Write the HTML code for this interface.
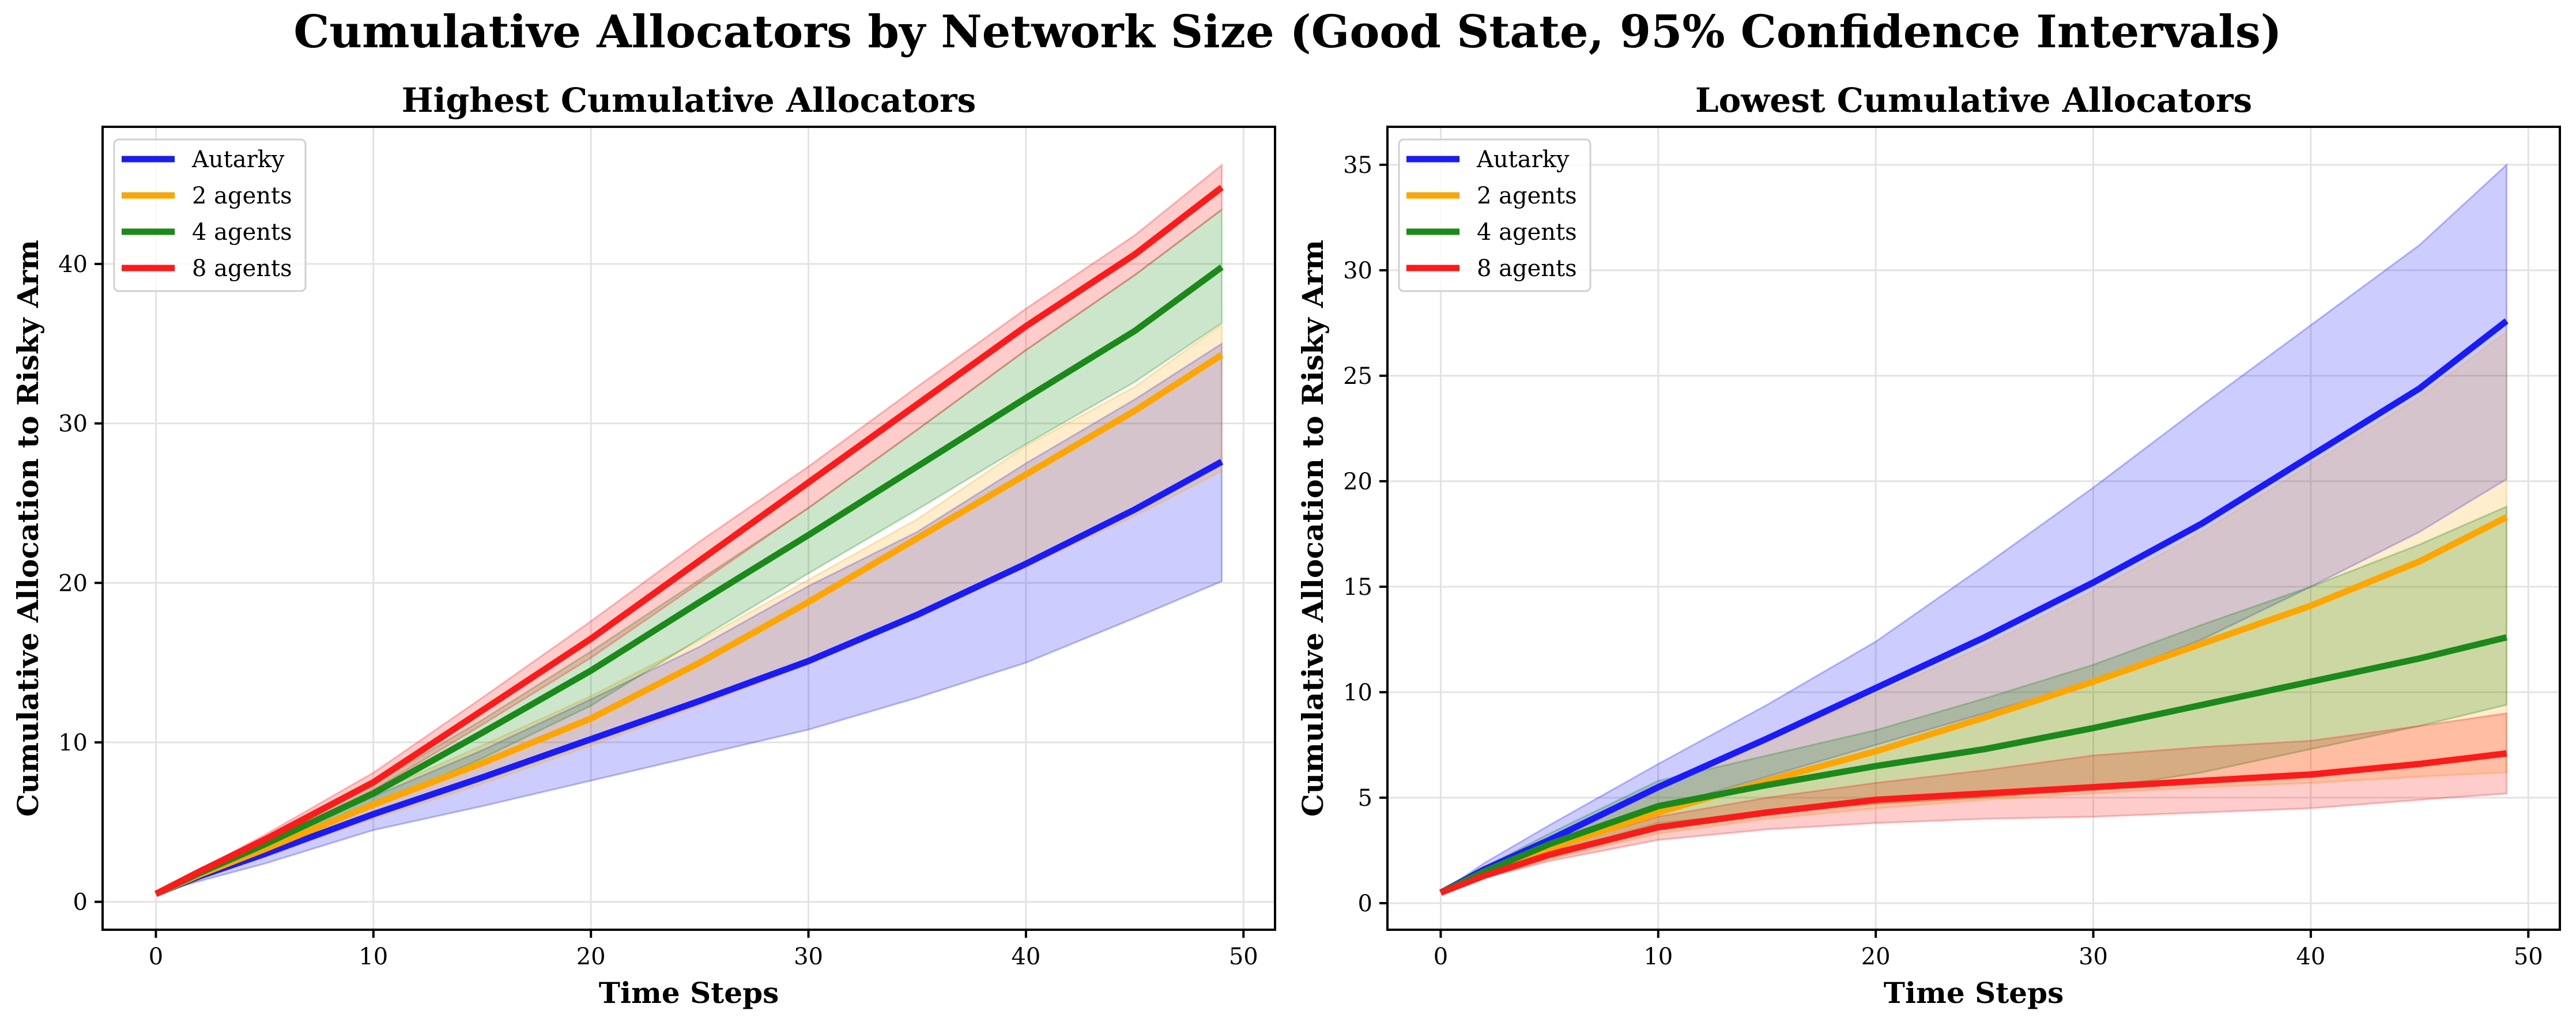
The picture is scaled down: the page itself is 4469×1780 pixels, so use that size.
<!DOCTYPE html>
<html><head><meta charset="utf-8"><style>
html,body{margin:0;padding:0;background:#fff}
svg{display:block}
text{font-family:"DejaVu Serif","Liberation Serif",serif}
</style></head><body>
<svg id="fig" width="4469" height="1780" viewBox="0 0 4469 1780" xmlns="http://www.w3.org/2000/svg">
<rect width="4469" height="1780" fill="#fff"/>
<text x="2234" y="82" text-anchor="middle" font-size="78" font-weight="bold">Cumulative Allocators by Network Size (Good State, 95% Confidence Intervals)</text>
</svg>
<script>
const steps = [0,2,5,10,15,20,25,30,35,40,45,49];
const seriesNames = ["Autarky","2 agents","4 agents","8 agents"];
const xTicks = [0,10,20,30,40,50];
const yTicksLeft = [0,10,20,30,40];
const yTicksRight = [0,5,10,15,20,25,30,35];

// Left panel: highest cumulative allocators
const hiAutMean = [0.5,1.6,3.0,5.5,7.8,10.2,12.6,15.1,18.0,21.2,24.6,27.6];
const hiAutLo   = [0.5,1.3,2.4,4.5,6.0,7.6,9.2,10.8,12.8,15.0,17.8,20.1];
const hiAutHi   = [0.5,1.9,3.6,6.6,9.5,12.7,16.0,19.8,23.2,27.5,31.5,35.0];
const hi2Mean = [0.5,1.7,3.3,6.1,8.7,11.5,15.0,18.8,22.8,26.8,30.8,34.3];
const hi2Lo   = [0.5,1.5,2.8,5.2,7.4,9.8,12.3,14.9,17.8,21.0,24.2,27.0];
const hi2Hi   = [0.5,1.9,3.7,6.8,9.8,12.9,16.4,20.2,24.0,28.6,32.3,36.2];
const hi4Mean = [0.5,1.8,3.6,6.8,10.6,14.5,18.8,23.0,27.3,31.6,35.8,39.8];
const hi4Lo   = [0.5,1.6,3.3,6.0,9.0,12.3,16.5,20.6,24.6,28.7,32.6,36.3];
const hi4Hi   = [0.5,2.0,3.9,7.4,11.4,15.7,20.2,24.7,29.6,34.6,39.3,43.4];
const hi8Mean = [0.5,1.9,3.9,7.5,12.0,16.5,21.4,26.3,31.2,36.1,40.6,44.8];
const hi8Lo   = [0.5,1.8,3.6,7.0,11.1,15.3,20.0,24.7,29.6,34.6,39.3,43.4];
const hi8Hi   = [0.5,2.0,4.2,8.1,12.8,17.6,22.6,27.3,32.3,37.2,41.8,46.2];

// Right panel: lowest cumulative allocators
const loAutMean = [0.5,1.6,3.0,5.5,7.8,10.2,12.6,15.2,18.0,21.2,24.4,27.6];
const loAutLo   = [0.5,1.3,2.4,4.5,6.0,7.5,9.0,10.5,12.5,15.0,17.6,20.1];
const loAutHi   = [0.5,1.9,3.7,6.6,9.4,12.4,16.0,19.7,23.6,27.4,31.2,35.0];
const lo2Mean = [0.5,1.4,2.6,4.3,5.8,7.2,8.8,10.5,12.3,14.1,16.2,18.3];
const lo2Lo   = [0.5,1.2,2.1,3.3,4.0,4.5,4.9,5.2,5.5,5.7,6.0,6.2];
const lo2Hi   = [0.5,1.6,3.1,5.5,7.7,9.9,12.2,14.8,17.6,20.8,24.0,27.1];
const lo4Mean = [0.5,1.5,2.8,4.6,5.6,6.5,7.3,8.3,9.4,10.5,11.6,12.6];
const lo4Lo   = [0.5,1.3,2.3,3.8,4.3,4.7,5.0,5.4,6.2,7.3,8.4,9.4];
const lo4Hi   = [0.5,1.7,3.3,5.8,7.0,8.2,9.7,11.3,13.2,15.0,17.0,18.8];
const lo8Mean = [0.5,1.3,2.3,3.6,4.3,4.9,5.2,5.5,5.8,6.1,6.6,7.1];
const lo8Lo   = [0.5,1.2,2.0,3.0,3.5,3.8,4.0,4.1,4.3,4.5,4.9,5.2];
const lo8Hi   = [0.5,1.4,2.6,4.1,5.0,5.7,6.3,7.0,7.4,7.7,8.4,9.0];

const colors = ["#1a1aff","#ffa500","#1a8a1a","#ff1a1a"];
const fills = ["#0000ff","#ffa500","#008000","#ff0000"];
const NS = "http://www.w3.org/2000/svg";
const svg = document.getElementById('fig');

function mk(tag, attrs, parent){
  const e = document.createElementNS(NS, tag);
  for (const k in attrs) e.setAttribute(k, attrs[k]);
  (parent||svg).appendChild(e);
  return e;
}

function panel(opts){
  const L = opts.left, R = opts.left + 2034, T = 220, B = 1613;
  const xMin = -2.45, xMax = 51.45;
  const sx = v => L + (v - xMin) / (xMax - xMin) * (R - L);
  const sy = v => B - (v - opts.yMin) / (opts.yMax - opts.yMin) * (B - T);
  const g = mk('g', {});
  
  
  xTicks.forEach(t => {
    const l = mk('line', {x1:sx(t), x2:sx(t), y1:T, y2:B, stroke:'#e3e3e3', 'stroke-width':3}, g);
    
    
  });
  opts.yTicks.forEach(t => {
    const l = mk('line', {x1:L, x2:R, y1:sy(t), y2:sy(t), stroke:'#e3e3e3', 'stroke-width':3}, g);
    
    
  });
  opts.series.forEach((s, i) => {
    let d = '';
    steps.forEach((x, j) => { d += (j ? 'L' : 'M') + sx(x) + ',' + sy(s.hi[j]); });
    for (let j = steps.length - 1; j >= 0; j--) d += 'L' + sx(steps[j]) + ',' + sy(s.lo[j]);
    d += 'Z';
    const p = mk('path', {d:d, fill:fills[i], 'fill-opacity':0.2, stroke:fills[i], 'stroke-opacity':0.25, 'stroke-width':3}, g);
    
    
  });
  opts.series.forEach((s, i) => {
    const pts = steps.map((x, j) => sx(x) + ',' + sy(s.mean[j])).join(' ');
    const pl = mk('polyline', {points:pts, fill:'none', stroke:colors[i], 'stroke-width':11, 'stroke-linejoin':'round'}, g);
    
    
  });
  const fr = mk('rect', {x:L, y:T, width:R-L, height:B-T, fill:'none', stroke:'#000', 'stroke-width':4}, g);
  
  
  xTicks.forEach(t => {
    mk('line', {x1:sx(t), x2:sx(t), y1:B, y2:B+14, stroke:'#000', 'stroke-width':4}, g);
    const tx = mk('text', {x:sx(t), y:B+60, 'text-anchor':'middle', 'font-size':40}, g);
    tx.textContent = t;
    
    
  });
  opts.yTicks.forEach(t => {
    mk('line', {x1:L-14, x2:L, y1:sy(t), y2:sy(t), stroke:'#000', 'stroke-width':4}, g);
    const tx = mk('text', {x:L-26, y:sy(t)+14, 'text-anchor':'end', 'font-size':40}, g);
    tx.textContent = t;
    
    
  });
  const ti = mk('text', {x:(L+R)/2, y:194, 'text-anchor':'middle', 'font-size':58, 'font-weight':'bold'}, g);
  ti.textContent = opts.title;
  
  
  const xl = mk('text', {x:(L+R)/2, y:1740, 'text-anchor':'middle', 'font-size':50, 'font-weight':'bold'}, g);
  xl.textContent = 'Time Steps';
  
  
  const yx = opts.left - 112, yy = (T+B)/2;
  const yl = mk('text', {x:yx, y:yy, 'text-anchor':'middle', 'font-size':50, 'font-weight':'bold', transform:'rotate(-90 '+yx+' '+yy+')'}, g);
  yl.textContent = 'Cumulative Allocation to Risky Arm';
  
  
  const lg = mk('g', {}, g);
  
  
  mk('rect', {x:L+20, y:242, width:332, height:263, rx:8, fill:'#fff', 'fill-opacity':0.8, stroke:'#d0d0d0', 'stroke-width':3}, lg);
  seriesNames.forEach((n, i) => {
    const y = 276 + i * 63;
    const sw = mk('line', {x1:L+33, x2:L+125, y1:y, y2:y, stroke:colors[i], 'stroke-width':11}, lg);
    
    
    const t = mk('text', {x:L+155, y:y+14, 'font-size':40}, lg);
    t.textContent = n;
    
    
  });
}

panel({name:'highest-allocators-panel', left:178, yMin:-1.75, yMax:48.6, yTicks:yTicksLeft, title:'Highest Cumulative Allocators',
  series:[{mean:hiAutMean,lo:hiAutLo,hi:hiAutHi},{mean:hi2Mean,lo:hi2Lo,hi:hi2Hi},{mean:hi4Mean,lo:hi4Lo,hi:hi4Hi},{mean:hi8Mean,lo:hi8Lo,hi:hi8Hi}]});
panel({name:'lowest-allocators-panel', left:2407, yMin:-1.26, yMax:36.8, yTicks:yTicksRight, title:'Lowest Cumulative Allocators',
  series:[{mean:loAutMean,lo:loAutLo,hi:loAutHi},{mean:lo2Mean,lo:lo2Lo,hi:lo2Hi},{mean:lo4Mean,lo:lo4Lo,hi:lo4Hi},{mean:lo8Mean,lo:lo8Lo,hi:lo8Hi}]});
</script>
</body></html>
